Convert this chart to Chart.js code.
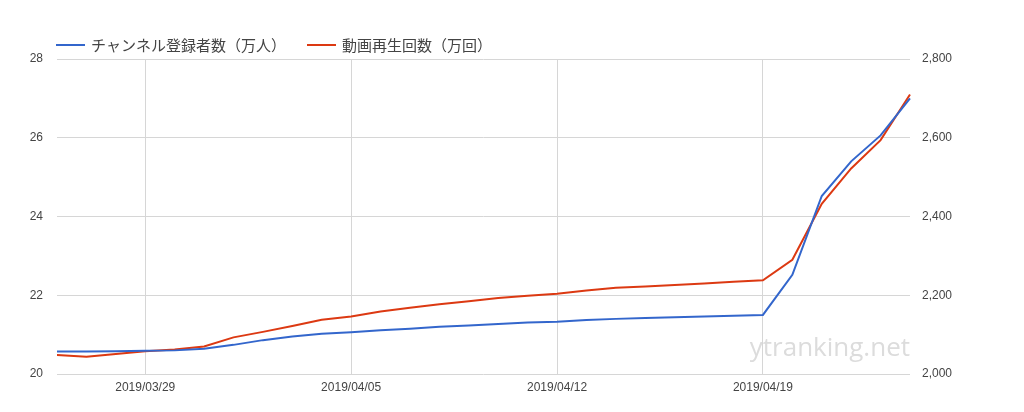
<!DOCTYPE html>
<html>
<head>
<meta charset="utf-8">
<script src="https://cdn.jsdelivr.net/npm/chart.js@4/dist/chart.umd.min.js"></script>
<style>
  html, body { margin: 0; padding: 0; background: #fff; }
  #wrap { width: 1024px; height: 412px; position: relative; }
</style>
</head>
<body>
<div id="wrap"><canvas id="chart"></canvas></div>
<script>
// Dates (daily)
const dates = [
  '2019/03/26', '2019/03/27', '2019/03/28', '2019/03/29', '2019/03/30', '2019/03/31',
  '2019/04/01', '2019/04/02', '2019/04/03', '2019/04/04', '2019/04/05', '2019/04/06',
  '2019/04/07', '2019/04/08', '2019/04/09', '2019/04/10', '2019/04/11', '2019/04/12',
  '2019/04/13', '2019/04/14', '2019/04/15', '2019/04/16', '2019/04/17', '2019/04/18',
  '2019/04/19', '2019/04/20', '2019/04/21', '2019/04/22', '2019/04/23', '2019/04/24'
];
// Dates that get a label and a vertical gridline
const shownDates = ['2019/03/29', '2019/04/05', '2019/04/12', '2019/04/19'];

// チャンネル登録者数（万人）
const subscribers = [
  20.57, 20.57, 20.58, 20.59, 20.60, 20.64,
  20.74, 20.86, 20.95, 21.02, 21.06, 21.11,
  21.15, 21.20, 21.23, 21.27, 21.31, 21.33,
  21.37, 21.40, 21.42, 21.44, 21.46, 21.48,
  21.50, 22.52, 24.52, 25.40, 26.06, 27.00
];
// 動画再生回数（万回）
const views = [
  2048, 2044, 2051, 2058, 2062, 2070,
  2093, 2107, 2122, 2138, 2146, 2159,
  2168, 2177, 2185, 2193, 2199, 2204,
  2212, 2219, 2222, 2226, 2230, 2234,
  2238, 2290, 2432, 2522, 2594, 2710
];

const leftTicks = [20, 22, 24, 26, 28];
const rightTicks = [2000, 2200, 2400, 2600, 2800];

const seriesNames = ['チャンネル登録者数（万人）', '動画再生回数（万回）'];
const blue = '#3366cc';
const red = '#dc3912';

// Watermark under everything, legend on top
const extrasPlugin = {
  id: 'extras',
  beforeDraw(chart) {
    const ctx = chart.ctx;
    ctx.save();
    ctx.font = '26px "Open Sans", sans-serif';
    ctx.fillStyle = '#dcdcdc';
    ctx.textAlign = 'right';
    ctx.textBaseline = 'alphabetic';
    ctx.fillText('ytranking.net', 910, 356);
    ctx.restore();
  },
  afterDraw(chart) {
    const ctx = chart.ctx;
    ctx.save();
    ctx.font = '15px "Noto Sans CJK JP", sans-serif';
    ctx.fillStyle = '#444';
    ctx.textAlign = 'left';
    ctx.textBaseline = 'middle';
    const items = [
      { x: 56, color: blue, text: seriesNames[0] },
      { x: 307, color: red, text: seriesNames[1] }
    ];
    items.forEach(item => {
      ctx.strokeStyle = item.color;
      ctx.lineWidth = 2;
      ctx.beginPath();
      ctx.moveTo(item.x, 45);
      ctx.lineTo(item.x + 29, 45);
      ctx.stroke();
      ctx.fillText(item.text, item.x + 35, 45);
    });
    ctx.restore();
  }
};

const ctx = document.getElementById('chart').getContext('2d');
const chart = new Chart(ctx, {
  type: 'line',
  data: {
    labels: dates,
    datasets: [
      {
        label: seriesNames[0],
        data: subscribers,
        borderColor: blue,
        backgroundColor: blue,
        borderWidth: 2,
        pointRadius: 0,
        tension: 0,
        yAxisID: 'y'
      },
      {
        label: seriesNames[1],
        data: views,
        borderColor: red,
        backgroundColor: red,
        borderWidth: 2,
        pointRadius: 0,
        tension: 0,
        yAxisID: 'y2'
      }
    ]
  },
  options: {
    responsive: true,
    maintainAspectRatio: false,
    animation: false,
    layout: { padding: { top: 59, left: 0, right: 0, bottom: 0 } },
    plugins: {
      legend: { display: false },
      tooltip: { enabled: false }
    },
    scales: {
      x: {
        offset: false,
        border: { display: false },
        grid: {
          drawTicks: false,
          lineWidth: 1,
          color: c => shownDates.includes(dates[c.index]) ? '#d6d6d6' : 'rgba(0,0,0,0)'
        },
        ticks: {
          autoSkip: false,
          maxRotation: 0,
          padding: 6,
          color: '#444',
          font: { family: 'Arial, "Liberation Sans", sans-serif', size: 12 },
          callback: function(value, index) {
            const d = dates[index];
            return shownDates.includes(d) ? d : '';
          }
        },
        afterFit: scale => { scale.height = 38; }
      },
      y: {
        position: 'left',
        min: 20,
        max: 28,
        border: { display: false },
        grid: { drawTicks: false, color: '#d6d6d6', lineWidth: 1 },
        ticks: {
          padding: 14,
          color: '#444',
          font: { family: 'Arial, "Liberation Sans", sans-serif', size: 12 }
        },
        afterBuildTicks: scale => { scale.ticks = leftTicks.map(v => ({ value: v })); },
        afterFit: scale => { scale.width = 57; }
      },
      y2: {
        position: 'right',
        min: 2000,
        max: 2800,
        border: { display: false },
        grid: { display: false, drawTicks: false },
        ticks: {
          padding: 12,
          color: '#444',
          font: { family: 'Arial, "Liberation Sans", sans-serif', size: 12 },
          callback: v => v.toLocaleString('en-US')
        },
        afterBuildTicks: scale => { scale.ticks = rightTicks.map(v => ({ value: v })); },
        afterFit: scale => { scale.width = 114; }
      }
    }
  },
  plugins: [extrasPlugin]
});
</script>
</body>
</html>
